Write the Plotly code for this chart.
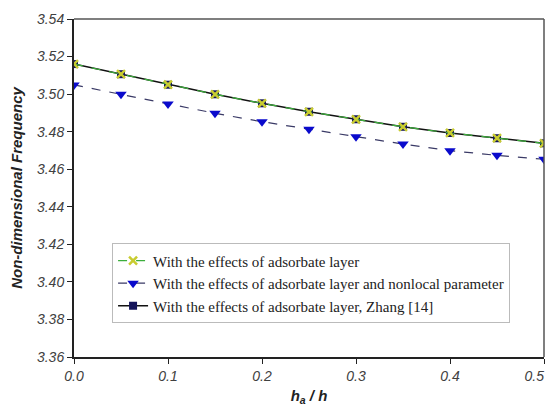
import plotly.graph_objects as go

ha_h = [0.0, 0.05, 0.1, 0.15, 0.2, 0.25, 0.3, 0.35, 0.4, 0.45, 0.5]
adsorbate = [3.5160, 3.5106, 3.5050, 3.4999, 3.4951, 3.4906, 3.4866, 3.4826, 3.4793, 3.4765, 3.4738]
adsorbate_nonlocal = [3.5049, 3.4999, 3.4947, 3.4898, 3.4853, 3.4813, 3.4773, 3.4734, 3.4699, 3.4674, 3.4653]
zhang = [3.5160, 3.5106, 3.5050, 3.4999, 3.4951, 3.4906, 3.4866, 3.4826, 3.4793, 3.4765, 3.4738]
x_tickvals = [0, 0.1, 0.2, 0.3, 0.4, 0.5]
x_ticktext = ["0.0", "0.1", "0.2", "0.3", "0.4", "0.5&nbsp;&nbsp;&nbsp;&nbsp;&nbsp;"]

names = [
    "With the effects of adsorbate layer",
    "With the effects of adsorbate layer and nonlocal parameter",
    "With the effects of adsorbate layer, Zhang [14]",
]

fig = go.Figure()

fig.add_trace(go.Scatter(
    x=ha_h, y=zhang, name=names[2], mode="lines+markers", legendrank=3,
    line=dict(color="#111111", width=1.5),
    marker=dict(symbol="square", size=8, color="#14145a"),
))
fig.add_trace(go.Scatter(
    x=ha_h, y=adsorbate, name=names[0], mode="lines+markers", legendrank=1,
    line=dict(color="#3cae3c", width=1.2, dash="dash"),
    marker=dict(symbol="x-thin", size=8, color="#c8cc30", line=dict(color="#c8cc30", width=2.5)),
))
fig.add_trace(go.Scatter(
    x=ha_h, y=adsorbate_nonlocal, name=names[1], mode="lines+markers", legendrank=2,
    line=dict(color="#3a3a66", width=1.2, dash="dash"),
    marker=dict(symbol="triangle-down", size=10, color="#0a0acc"),
))

tickfont = dict(family="Liberation Sans", size=14, color="#404040", style="italic")

fig.update_layout(
    width=537, height=398,
    margin=dict(l=66, r=1, t=11, b=49),
    paper_bgcolor="white", plot_bgcolor="white",
    showlegend=True,
    legend=dict(
        x=0.081, y=0.336, xanchor="left", yanchor="top",
        bgcolor="white", bordercolor="#bbbbbb", borderwidth=1,
        font=dict(family="Liberation Serif", size=15, color="#222222"),
        tracegroupgap=0, itemwidth=30,
    ),
    xaxis=dict(
        range=[0, 0.5], tickvals=x_tickvals, ticktext=x_ticktext,
        ticklabeloverflow="allow", automargin=False,
        showgrid=False, zeroline=False,
        showline=True, linecolor="#222222", linewidth=2,
        ticks="outside", ticklen=5, tickcolor="#222222", tickwidth=1,
        tickfont=tickfont,
        title=dict(text="<b><i>h<sub>a</sub> / h</i></b>", standoff=20,
                   font=dict(family="Liberation Sans", size=15, color="#222222")),
    ),
    yaxis=dict(
        range=[3.36, 3.54], dtick=0.02, tickformat=".2f", automargin=False,
        showgrid=False, zeroline=False,
        showline=True, linecolor="#222222", linewidth=2,
        ticks="outside", ticklen=5, tickcolor="#222222", tickwidth=1,
        tickfont=tickfont,
        title=dict(text="<b><i>Non-dimensional Frequency</i></b>", standoff=14,
                   font=dict(family="Liberation Sans", size=15, color="#222222")),
    ),
    shapes=[
        dict(type="line", xref="paper", yref="paper", x0=0, x1=1, y0=1, y1=1,
             line=dict(color="#555555", width=1.5)),
        dict(type="line", xref="paper", yref="paper", x0=1, x1=1, y0=0, y1=1,
             line=dict(color="#555555", width=1.5)),
    ],
)

fig.write_html("out.html")
